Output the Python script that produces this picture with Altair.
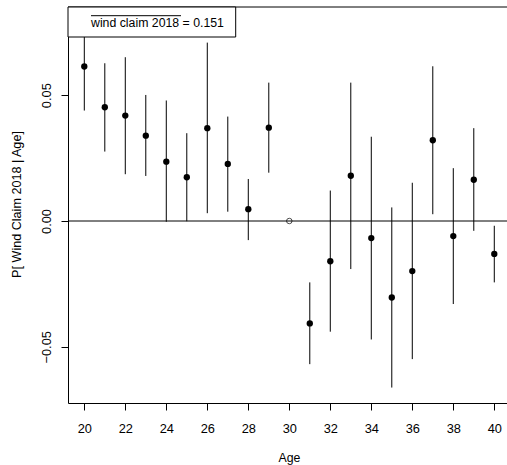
import altair as alt
import pandas as pd

ages = [20, 21, 22, 23, 24, 25, 26, 27, 28, 29, 31, 32, 33, 34, 35, 36, 37, 38, 39, 40]
est = [0.0614, 0.0452, 0.0419, 0.0339, 0.0236, 0.0174, 0.0369, 0.0227, 0.0047, 0.0371,
       -0.0407, -0.0160, 0.0180, -0.0068, -0.0304, -0.0199, 0.0321, -0.0060, 0.0164, -0.0131]
lo = [0.0439, 0.0276, 0.0186, 0.0179, -0.0003, -0.0001, 0.0031, 0.0037, -0.0076, 0.0192,
      -0.0569, -0.0440, -0.0191, -0.0471, -0.0662, -0.0549, 0.0027, -0.0330, -0.0039, -0.0244]
hi = [0.0789, 0.0627, 0.0651, 0.0501, 0.0479, 0.0349, 0.0709, 0.0415, 0.0167, 0.0550,
      -0.0244, 0.0121, 0.0550, 0.0335, 0.0054, 0.0152, 0.0615, 0.0210, 0.0369, -0.0019]
ref_age = [30]
ref_val = [0.0]
x_ticks = list(range(20, 41))
y_ticks = [-0.05, 0.0, 0.05]
legend_text = ["wind claim 2018 = 0.151"]

df = pd.DataFrame({"age": ages, "est": est, "lo": lo, "hi": hi})
ref = pd.DataFrame({"age": ref_age, "est": ref_val})

FONT = "Liberation Sans"
W, H = 439, 396

xs = alt.Scale(domain=[19.205, 40.62], nice=False, zero=False)
ys = alt.Scale(domain=[-0.07234, 0.08506], nice=False, zero=False)

xax = alt.Axis(values=x_ticks, labelExpr="datum.value % 2 == 0 ? datum.label : ''",
               tickSize=7, labelPadding=22.5, labelBaseline="alphabetic",
               labelFontSize=12.8, labelFont=FONT, labelColor="black",
               domainColor="black", tickColor="black", grid=False,
               title="Age", titleFont=FONT, titleFontSize=12.3, titleFontWeight="normal",
               titleColor="black", titleX=221, titleY=58, titleBaseline="alphabetic",
               titleAlign="center", labelFlush=False, labelOverlap=False)
yax = alt.Axis(values=y_ticks, format=".2f", tickSize=7, labelPadding=11,
               labelAngle=270, labelAlign="center", labelBaseline="alphabetic",
               labelFontSize=12.8, labelFont=FONT, labelColor="black",
               domainColor="black", tickColor="black", grid=False,
               title="P[ Wind Claim 2018 | Age]", titleFont=FONT, titleFontSize=12.6,
               titleFontWeight="normal", titleColor="black", titleAngle=270,
               titleX=-48, titleY=197, titleBaseline="alphabetic", titleAlign="center",
               labelFlush=False, labelOverlap=False)

base = alt.Chart(df)

bars = base.mark_rule(color="black", strokeWidth=1).encode(
    x=alt.X("age:Q", scale=xs, axis=xax),
    y=alt.Y("lo:Q", scale=ys, axis=yax),
    y2="hi:Q",
)

zero = alt.Chart(ref).mark_rule(color="black", strokeWidth=1).encode(
    y=alt.datum(0.0, scale=ys)
)

pts = base.mark_circle(color="black", opacity=1, size=40).encode(
    x=alt.X("age:Q", scale=xs),
    y=alt.Y("est:Q", scale=ys),
)

refpt = alt.Chart(ref).mark_point(color="black", filled=False, size=30, strokeWidth=1).encode(
    x=alt.X("age:Q", scale=xs),
    y=alt.Y("est:Q", scale=ys),
)

top = alt.Chart(ref).mark_rule(color="black", strokeWidth=1).encode(
    x=alt.value(0), x2=alt.value(W), y=alt.value(0)
)

lbox = alt.Chart(ref).mark_rect(fill="white", stroke="black", strokeWidth=1).encode(
    x=alt.value(0), x2=alt.value(167.7), y=alt.value(0), y2=alt.value(30)
)

ltext = alt.Chart(pd.DataFrame({"t": legend_text})).mark_text(
    align="left", baseline="alphabetic", font=FONT, fontSize=12.3, color="black"
).encode(x=alt.value(23), y=alt.value(20.3), text="t:N")

lover = alt.Chart(ref).mark_rule(color="black", strokeWidth=1).encode(
    x=alt.value(23), x2=alt.value(113), y=alt.value(8.7)
)

chart = alt.layer(bars, zero, pts, refpt, top, lbox, ltext, lover).properties(
    width=W, height=H,
    padding={"left": 68, "top": 7, "right": 0, "bottom": 62},
    autosize=alt.AutoSizeParams(type="none"),
    background="white",
).configure_view(stroke=None)

chart.save("out.html", embed_options={"renderer": "svg", "actions": False})
